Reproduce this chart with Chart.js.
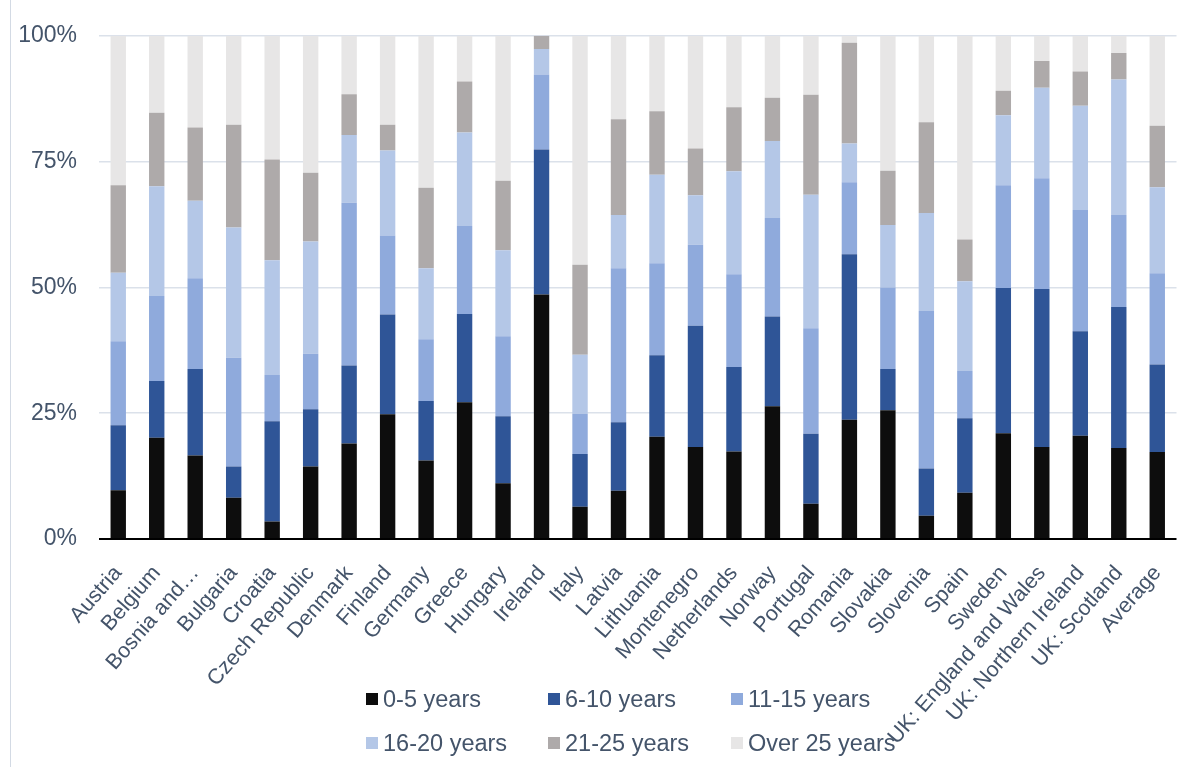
<!DOCTYPE html>
<html>
<head>
<meta charset="utf-8">
<script src="https://cdn.jsdelivr.net/npm/chart.js@4/dist/chart.umd.min.js"></script>
<style>
    body { margin: 0; background: #fff; }
    #wrap { position: relative; width: 1199px; height: 767px; }
    #edge { position: absolute; left: 10px; top: 0; width: 1px; height: 767px; background: #d3dae4; }
    #legend { position: absolute; left: 0; top: 0; width: 1199px; height: 767px; pointer-events: none; }
    .item { position: absolute; display: flex; align-items: center; font: 23.5px "Liberation Sans", Arial, sans-serif; color: #44546a; white-space: nowrap; }
    .box { width: 12px; height: 12px; margin-right: 5px; }
</style>
</head>
<body>
<div id="wrap">
    <div id="edge"></div>
    <canvas id="myChart" width="1199" height="767"></canvas>
    <div id="legend"></div>
</div>
<script>
const countries = ['Austria', 'Belgium', 'Bosnia and\u2026', 'Bulgaria', 'Croatia', 'Czech Republic', 'Denmark', 'Finland',
    'Germany', 'Greece', 'Hungary', 'Ireland', 'Italy', 'Latvia', 'Lithuania', 'Montenegro', 'Netherlands', 'Norway',
    'Portugal', 'Romania', 'Slovakia', 'Slovenia', 'Spain', 'Sweden', 'UK: England and Wales', 'UK: Northern Ireland',
    'UK: Scotland', 'Average'];
const years0to5 = [9.7, 20.1, 16.6, 8.2, 3.5, 14.4, 19.0, 24.8, 15.6, 27.2, 11.1, 48.6, 6.4, 9.6, 20.3, 18.3, 17.4, 26.4,
    7.0, 23.7, 25.6, 4.6, 9.2, 21.0, 18.3, 20.5, 18.1, 17.3];
const years6to10 = [12.9, 11.3, 17.2, 6.2, 19.9, 11.4, 15.5, 19.8, 11.8, 17.5, 13.3, 28.8, 10.5, 13.6, 16.2, 24.1, 16.8, 17.8,
    13.9, 32.9, 8.2, 9.4, 14.8, 28.9, 31.4, 20.8, 28.0, 17.4];
const years11to15 = [16.7, 16.9, 18.0, 21.6, 9.2, 11.0, 32.3, 15.7, 12.3, 17.5, 15.9, 14.9, 8.0, 30.6, 18.3, 16.1, 18.4, 19.6,
    21.0, 14.3, 16.2, 31.3, 9.4, 20.4, 22.0, 24.1, 18.3, 18.1];
const years16to20 = [13.6, 21.8, 15.4, 25.9, 22.8, 22.3, 13.5, 16.9, 14.1, 18.6, 17.1, 5.1, 11.7, 10.6, 17.6, 9.8, 20.5, 15.3,
    26.5, 7.7, 12.4, 19.5, 17.8, 13.9, 18.0, 20.7, 26.9, 17.1];
const years21to25 = [17.4, 14.6, 14.6, 20.4, 20.0, 13.7, 8.1, 5.1, 16.0, 10.1, 13.8, 2.6, 17.9, 19.0, 12.6, 9.3, 12.7, 8.6,
    19.9, 20.0, 10.8, 18.0, 8.3, 4.9, 5.3, 6.8, 5.3, 12.2];
const over25 = [29.7, 15.3, 18.2, 17.7, 24.6, 27.2, 11.6, 17.7, 30.2, 9.1, 28.8, 0, 45.5, 16.6, 15.0, 22.4, 14.2, 12.3,
    11.7, 1.4, 26.8, 17.2, 40.5, 10.9, 5.0, 7.1, 3.4, 17.9];
const yTicks = [0, 25, 50, 75, 100];

const seriesNames = ['0-5 years', '6-10 years', '11-15 years', '16-20 years', '21-25 years', 'Over 25 years'];
const seriesValues = [years0to5, years6to10, years11to15, years16to20, years21to25, over25];
const seriesColors = ['#0d0d0d', '#2f5597', '#8faadc', '#b4c7e7', '#aeaaaa', '#e7e6e6'];

const textColor = '#44546a';
const fontFamily = '"Liberation Sans", Arial, sans-serif';

const ctx = document.getElementById('myChart').getContext('2d');
const myChart = new Chart(ctx, {
    type: 'bar',
    data: {
        labels: countries,
        datasets: seriesNames.map((name, i) => ({
            label: name,
            data: seriesValues[i],
            backgroundColor: seriesColors[i],
            borderWidth: 0,
            barPercentage: 0.4,
            categoryPercentage: 1,
        })),
    },
    options: {
        responsive: false,
        animation: false,
        layout: {
            padding: { top: 35, right: 15, left: 0, bottom: 0 },
        },
        scales: {
            x: {
                stacked: true,
                afterFit: scale => { scale.height = 228 },
                grid: { display: false, drawTicks: false },
                border: { display: false },
                ticks: {
                    autoSkip: false,
                    minRotation: 49,
                    maxRotation: 49,
                    padding: 22,
                    color: textColor,
                    font: { family: fontFamily, size: 21.5 },
                },
            },
            y: {
                stacked: true,
                min: 0,
                max: 100,
                afterFit: scale => { scale.width = 99 },
                afterBuildTicks: scale => { scale.ticks = yTicks.map(v => ({ value: v })) },
                grid: {
                    drawTicks: false,
                    color: c => c.tick && c.tick.value === 0 ? '#000000' : '#dbe1ea',
                    lineWidth: c => c.tick && c.tick.value === 0 ? 2 : 1.5,
                },
                border: { display: false },
                ticks: {
                    padding: 22,
                    color: textColor,
                    font: { family: fontFamily, size: 23 },
                    callback: val => val + '%',
                },
            },
        },
        plugins: {
            legend: { display: false },
            tooltip: { enabled: false },
        },
    },
});

const legendEl = document.getElementById('legend');
const columns = [366, 548, 731];
const rows = [699, 743];
myChart.data.datasets.forEach((ds, i) => {
    const item = document.createElement('div');
    item.className = 'item';
    item.style.left = columns[i % 3] + 'px';
    item.style.top = (rows[Math.floor(i / 3)] - 14) + 'px';
    item.style.height = '28px';
    const box = document.createElement('span');
    box.className = 'box';
    box.style.background = ds.backgroundColor;
    const text = document.createElement('span');
    text.textContent = ds.label;
    item.appendChild(box);
    item.appendChild(text);
    legendEl.appendChild(item);
});
</script>
</body>
</html>
